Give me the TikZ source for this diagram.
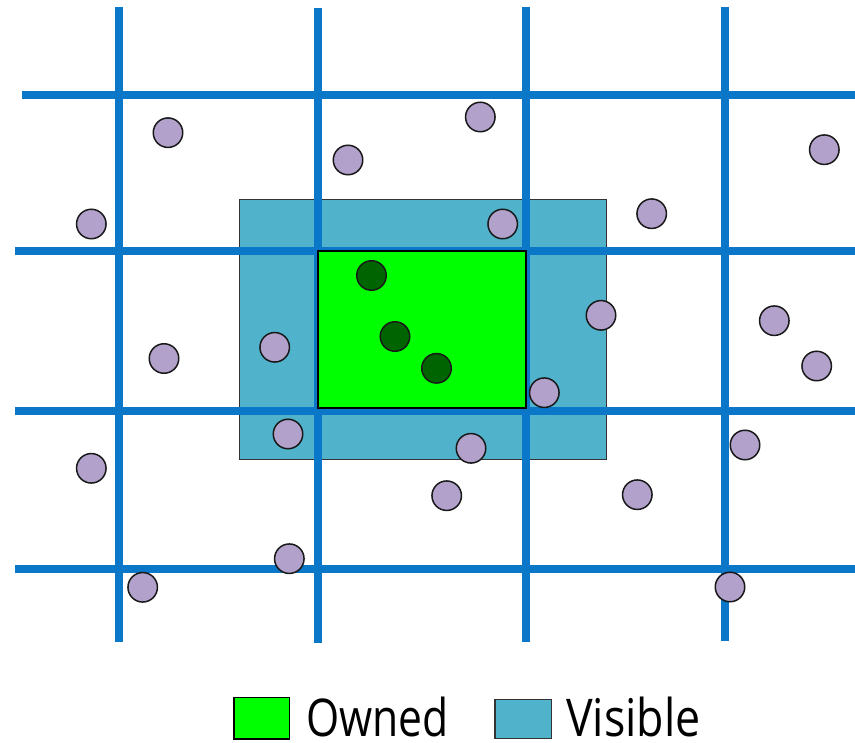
\documentclass[tikz,border=0pt]{standalone}
\usepackage{fontspec}
\setmainfont{Open Sans}
\definecolor{gridblue}{HTML}{0A77C9}
\definecolor{visfill}{HTML}{50B2CB}
\definecolor{ownfill}{HTML}{00FF00}
\definecolor{ptfill}{HTML}{B2A2CB}
\definecolor{ownpt}{HTML}{006400}
\begin{document}
\begin{tikzpicture}[x=1pt,y=-1pt,
  gridline/.style={draw=gridblue,line width=8pt},
  visbox/.style={draw=black!80,fill=visfill,line width=1pt},
  ownbox/.style={draw=black,fill=ownfill,line width=1.5pt},
  ptdot/.style={circle,draw=black!90,fill=ptfill,line width=1.5pt,minimum size=29.5pt,inner sep=0pt},
  owndot/.style={circle,draw=black!90,fill=ownpt,line width=1.5pt,minimum size=29.5pt,inner sep=0pt},
  legtext/.style={anchor=base west,inner sep=0pt,font=\fontsize{52}{52}\selectfont}]
\useasboundingbox (0,0) rectangle (855,743);
% visible region
\path[visbox] (239,199.5) rectangle (606.5,459.5);
% grid
\coordinate (h1a) at (22,95);  \coordinate (h1b) at (855,95);
\coordinate (h2a) at (15,251); \coordinate (h2b) at (855,251);
\coordinate (h3a) at (15,411); \coordinate (h3b) at (855,411);
\coordinate (h4a) at (15,569); \coordinate (h4b) at (855,569);
\coordinate (v1a) at (119,7);  \coordinate (v1b) at (119,642);
\coordinate (v2a) at (318,8);  \coordinate (v2b) at (318,643);
\coordinate (v3a) at (526,7);  \coordinate (v3b) at (526,642);
\coordinate (v4a) at (725,7);  \coordinate (v4b) at (725,641);
\foreach \l in {h1,h2,h3,h4,v1,v2,v3,v4}{\draw[gridline] (\l a) -- (\l b);}
% owned region
\path[ownbox] (318,251) rectangle (526,408);
% owned particles
\node[owndot] (o1) at (371.5,275.5) {};
\node[owndot] (o2) at (395,336.5) {};
\node[owndot] (o3) at (436.5,368.3) {};
% other particles
\foreach \px/\py [count=\i] in {168/132.7,348/160,91.3/224,274.7/347.3,164/358.5,
  480.3/117,824.3/149.7,651.7/213.7,502.7/224,601/315.3,774.3/320.7,816.7/366,
  288/434,91.3/468.3,289.3/558.7,142.7/587.3,
  544.3/392.7,471/448.3,446.7/495.7,637.3/494.7,745/445,730/587}
  {\node[ptdot] (p\i) at (\px,\py) {};}
% legend
\path[ownbox,line width=1.2pt] (234,697.5) rectangle (289.5,739);
\path[visbox,line width=1.2pt] (495,699.5) rectangle (551.5,738.5);
\node[legtext] (lo) at (306,736.5) {\scalebox{0.82}[1]{Owned}};
\node[legtext] (lv) at (566,736.5) {\scalebox{0.86}[1]{Visible}};
\end{tikzpicture}
\end{document}
